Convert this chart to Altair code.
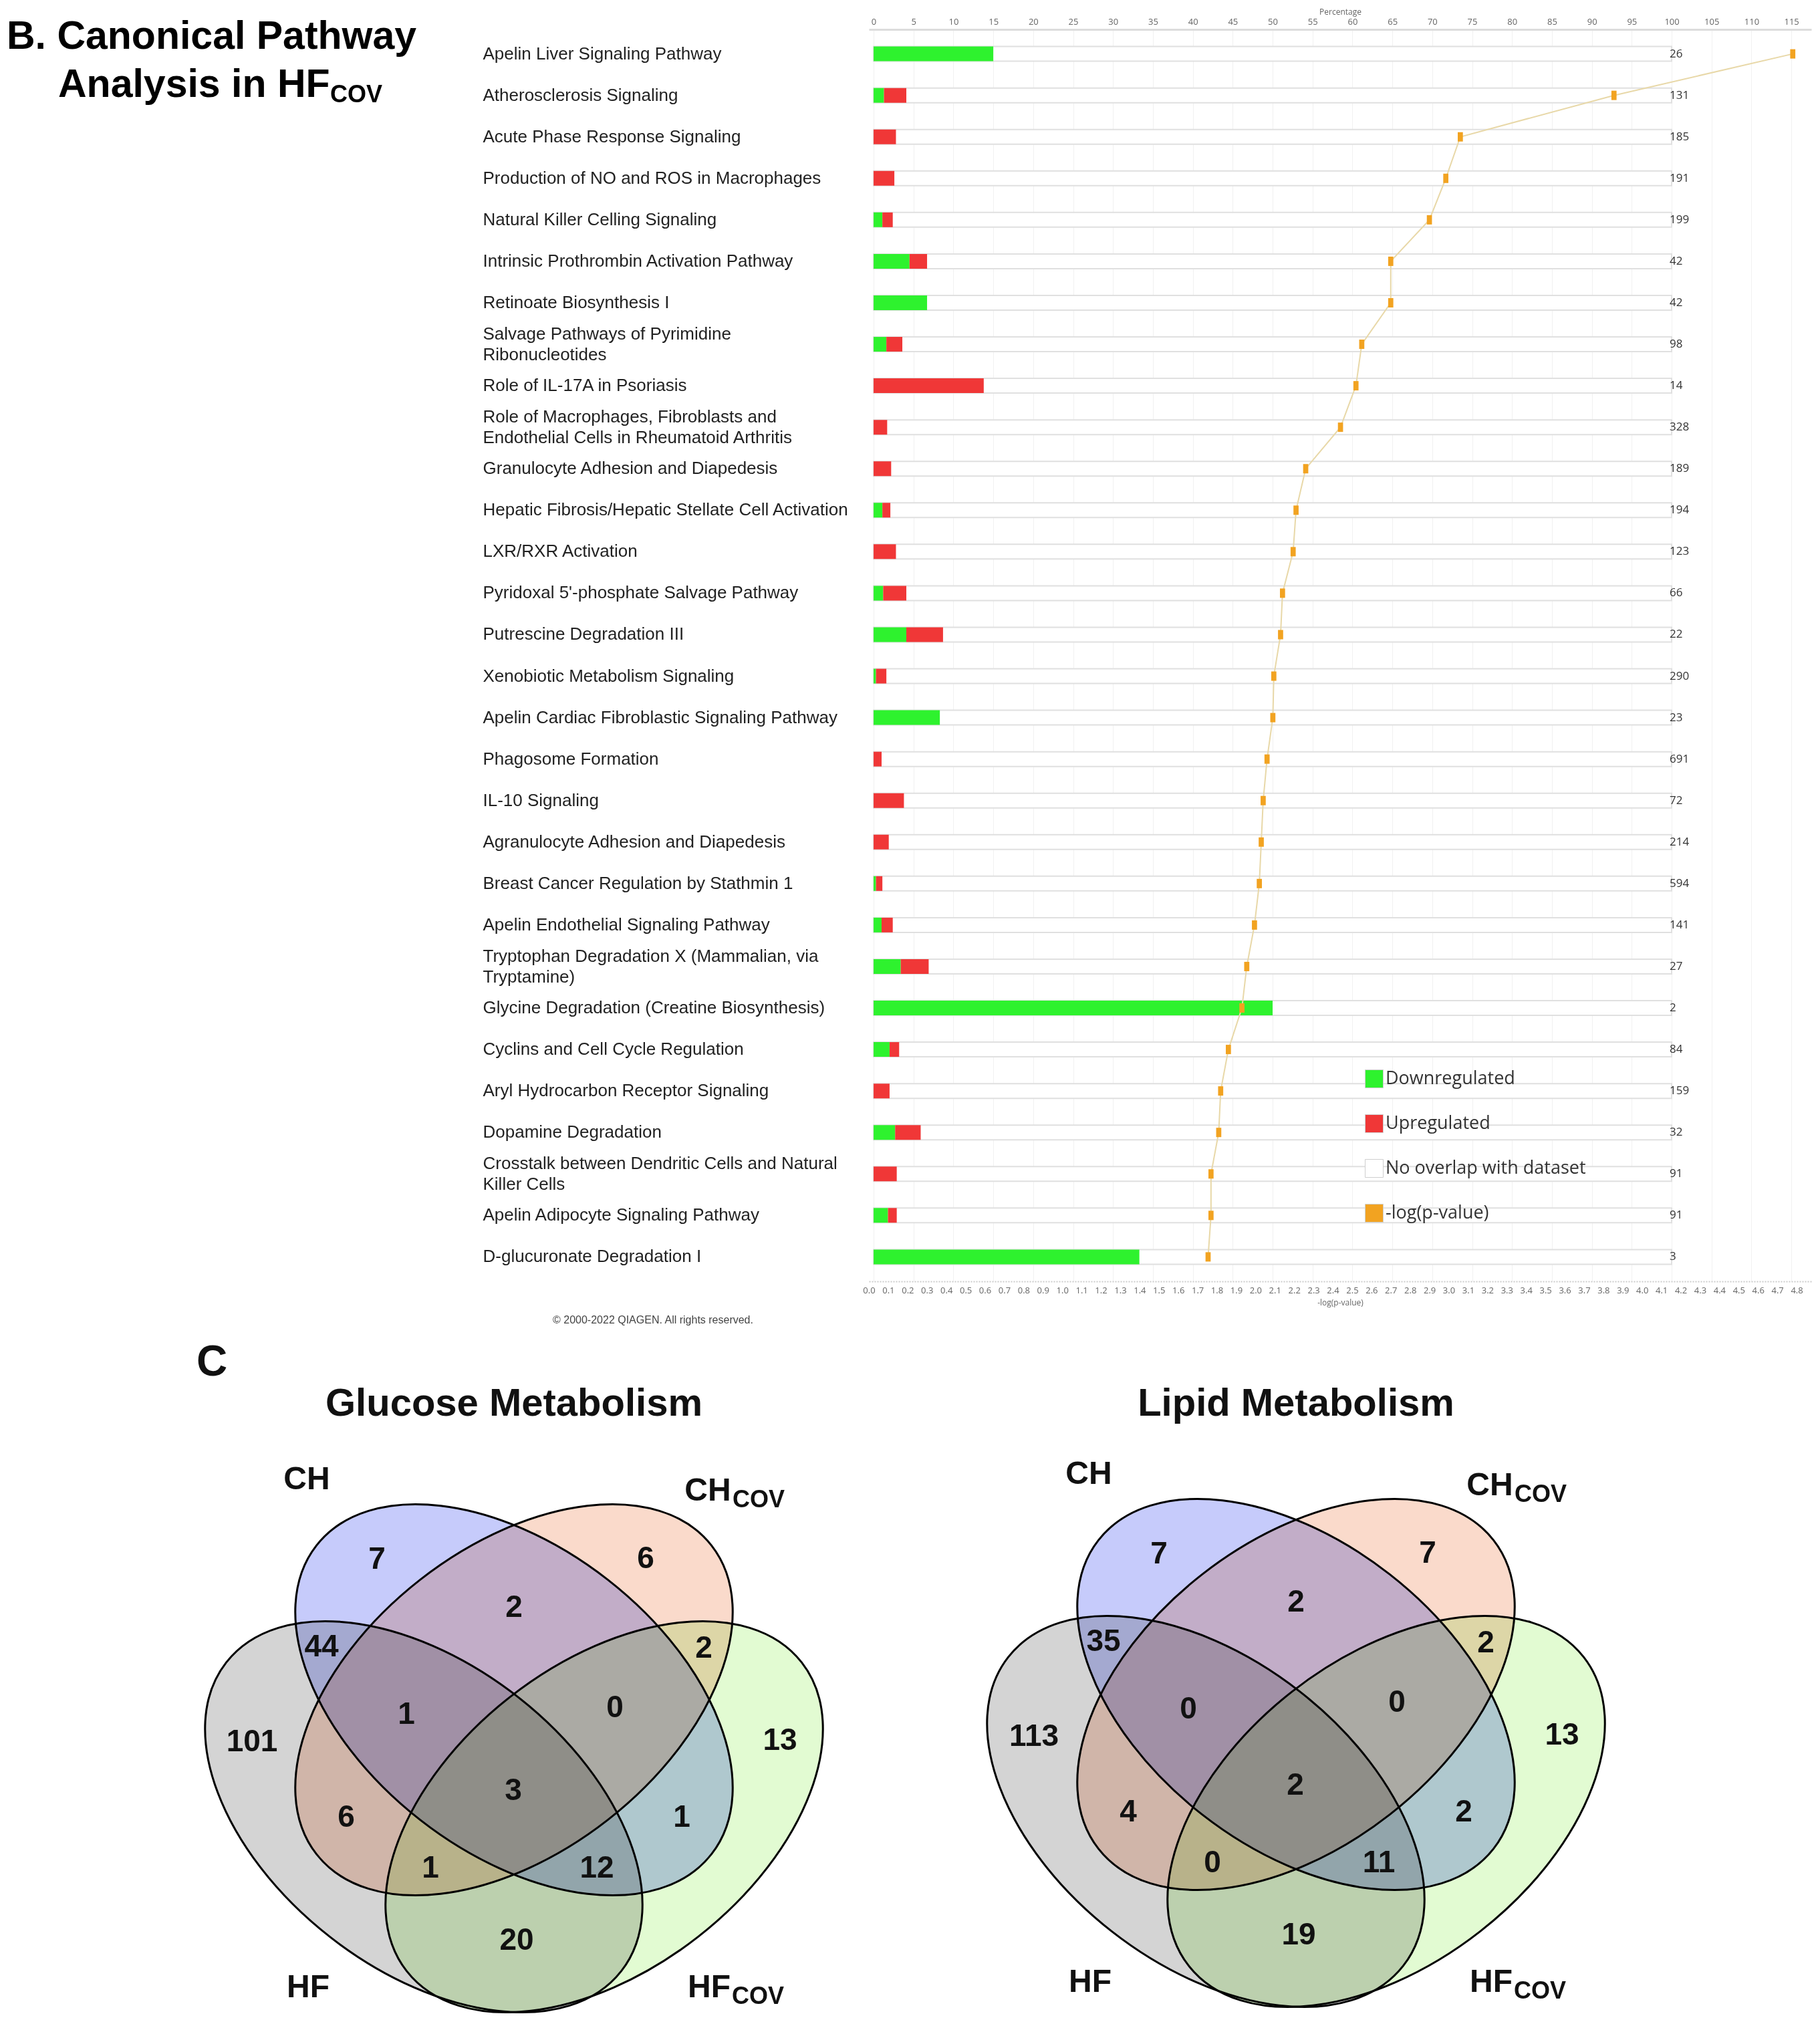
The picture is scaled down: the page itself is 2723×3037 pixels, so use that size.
import altair as alt
import pandas as pd

# ---------------- data: canonical pathway analysis ----------------
pathways = [
    "Apelin Liver Signaling Pathway",
    "Atherosclerosis Signaling",
    "Acute Phase Response Signaling",
    "Production of NO and ROS in Macrophages",
    "Natural Killer Celling Signaling",
    "Intrinsic Prothrombin Activation Pathway",
    "Retinoate Biosynthesis I",
    "Salvage Pathways of Pyrimidine|Ribonucleotides",
    "Role of IL-17A in Psoriasis",
    "Role of Macrophages, Fibroblasts and|Endothelial Cells in Rheumatoid Arthritis",
    "Granulocyte Adhesion and Diapedesis",
    "Hepatic Fibrosis/Hepatic Stellate Cell Activation",
    "LXR/RXR Activation",
    "Pyridoxal 5'-phosphate Salvage Pathway",
    "Putrescine Degradation III",
    "Xenobiotic Metabolism Signaling",
    "Apelin Cardiac Fibroblastic Signaling Pathway",
    "Phagosome Formation",
    "IL-10 Signaling",
    "Agranulocyte Adhesion and Diapedesis",
    "Breast Cancer Regulation by Stathmin 1",
    "Apelin Endothelial Signaling Pathway",
    "Tryptophan Degradation X (Mammalian, via|Tryptamine)",
    "Glycine Degradation (Creatine Biosynthesis)",
    "Cyclins and Cell Cycle Regulation",
    "Aryl Hydrocarbon Receptor Signaling",
    "Dopamine Degradation",
    "Crosstalk between Dendritic Cells and Natural|Killer Cells",
    "Apelin Adipocyte Signaling Pathway",
    "D-glucuronate Degradation I",
]
down_pct = [15.0, 1.3, 0, 0, 1.1, 4.5, 6.7, 1.6, 0, 0, 0, 1.1, 0, 1.2, 4.1,
            0.3, 8.3, 0, 0, 0, 0.3, 1.0, 3.4, 50.0, 2.0, 0, 2.7, 0, 1.8, 33.3]
up_pct = [0, 2.8, 2.8, 2.6, 1.3, 2.2, 0, 2.0, 13.8, 1.7, 2.2, 1.0, 2.8, 2.9, 4.6,
          1.3, 0, 1.0, 3.8, 1.9, 0.8, 1.4, 3.5, 0, 1.2, 2.0, 3.2, 2.9, 1.1, 0]
neg_log_p = [4.78, 3.855, 3.06, 2.985, 2.90, 2.70, 2.70, 2.55, 2.52, 2.44, 2.26, 2.21,
             2.195, 2.14, 2.13, 2.095, 2.09, 2.06, 2.04, 2.03, 2.02, 1.995, 1.955,
             1.93, 1.86, 1.82, 1.81, 1.77, 1.77, 1.755]
pathway_sizes = [26, 131, 185, 191, 199, 42, 42, 98, 14, 328, 189, 194, 123, 66, 22,
                 290, 23, 691, 72, 214, 594, 141, 27, 2, 84, 159, 32, 91, 91, 3]

legend_names = ["Downregulated", "Upregulated", "No overlap with dataset", "-log(p-value)"]
legend_colors = ["#2ef22e", "#f03737", "#ffffff", "#f2a321"]

pct_ticks = list(range(0, 116, 5))
p_ticks = [round(i * 0.1, 1) for i in range(49)]

# ---------------- data: Venn diagrams ----------------
venn_regions = ["CH", "CH_cov", "CH&CH_cov", "CH&HF", "CH_cov&HF_cov", "CH&CH_cov&HF",
                "CH&CH_cov&HF_cov", "HF", "HF_cov", "CH&CH_cov&HF&HF_cov", "CH_cov&HF",
                "CH&HF_cov", "CH_cov&HF&HF_cov", "CH&HF&HF_cov", "HF&HF_cov"]
glucose_counts = [7, 6, 2, 44, 2, 1, 0, 101, 13, 3, 6, 1, 1, 12, 20]
lipid_counts = [7, 7, 2, 35, 2, 0, 0, 113, 13, 2, 4, 2, 0, 11, 19]
venn_titles = ["Glucose Metabolism", "Lipid Metabolism"]

# ---------------- layout (pixels) ----------------
PLOT_W, PLOT_H = 1410, 1873
PLOT_TOP = 42             # page y of the bar plot's top edge
TITLE_W = 714
LABEL_PAD = 578
ROW_GAP = 10
TOP_PAD = 3
ROW2_TOP = 1964           # page y where the Venn canvas starts
CANVAS_W, CANVAS_H = 2707, 1062
MARGIN = 8

# region label offsets from the Venn centre
region_offsets = {
    "CH": (-205, -210), "CH_cov": (197, -211), "CH&CH_cov": (0, -138),
    "CH&HF": (-288, -79), "CH_cov&HF_cov": (284, -77), "CH&CH_cov&HF": (-161, 22),
    "CH&CH_cov&HF_cov": (151, 12), "HF": (-392, 63), "HF_cov": (398, 61),
    "CH&CH_cov&HF&HF_cov": (-1, 136), "CH_cov&HF": (-251, 176), "CH&HF_cov": (251, 176),
    "CH_cov&HF&HF_cov": (-125, 252), "CH&HF&HF_cov": (124, 252), "HF&HF_cov": (4, 360),
}
venn_centres = [(769, 2543), (1939, 2535)]
ELL_A, ELL_B = 375, 228
ellipse_sets = [  # name, dx, dy, angle, fill
    ("HF", -135, 175, 38, "#d4d4d4"),
    ("HF_cov", 135, 175, 322, "#e2fbd2"),
    ("CH_cov", 0, 0, 322, "#fadacb"),
    ("CH", 0, 0, 38, "#c6cbfb"),
]
ELLIPSE_PATH = "M-1,0A1,%.4f,0,1,1,1,0A1,%.4f,0,1,1,-1,0Z" % (ELL_B / ELL_A, ELL_B / ELL_A)

# ================= Panel B : bar chart =================
df = pd.DataFrame({
    "pathway": pathways, "down": down_pct, "up": up_pct, "nlogp": neg_log_p,
    "total": pathway_sizes, "rank": list(range(len(pathways))),
})
df["zero"] = 0.0
df["full"] = 100.0

segs = pd.concat([
    pd.DataFrame({"pathway": pathways, "start": 0.0, "end": down_pct, "kind": "Downregulated"}),
    pd.DataFrame({"pathway": pathways, "start": down_pct,
                  "end": [d + u for d, u in zip(down_pct, up_pct)], "kind": "Upregulated"}),
])
segs = segs[segs["end"] > segs["start"]]

y_enc = alt.Y(
    "pathway:N", sort=pathways, title=None,
    scale=alt.Scale(paddingInner=0, paddingOuter=0.09),
    axis=alt.Axis(
        labelExpr="split(datum.label, '|')", labelAlign="left", labelBaseline="middle",
        labelOffset={"expr": "indexof(datum.value, '|') >= 0 ? -15 : 0"},
        labelPadding=LABEL_PAD, ticks=False, tickSize=0, domain=False, grid=False,
        labelFont="Liberation Sans", labelFontSize=26, labelColor="#222222",
        labelLimit=0, labelLineHeight=31,
    ),
)

pct_scale = alt.Scale(domain=[-0.59, 117.5], nice=False, zero=False)
top_axis = alt.Axis(
    orient="top", values=pct_ticks, title="Percentage", titleFont="Open Sans",
    titleFontSize=12, titleFontWeight="normal", titleColor="#666666", titlePadding=2,
    labelFont="Open Sans", labelFontSize=13, labelColor="#666666", labelPadding=5,
    ticks=False, tickSize=0, domainColor="#dcdcdc", domainWidth=3,
    grid=True, gridColor="#f1f1f1", gridWidth=1, labelFlush=False, labelOverlap=False,
)


def xp(field):
    return alt.X(field, type="quantitative", scale=pct_scale, axis=top_axis)


bg = alt.Chart(df).mark_bar(size=22, fill="white", stroke="#e0e0e0", strokeWidth=2).encode(
    x=xp("zero"), x2="full:Q", y=y_enc)

bars = alt.Chart(segs).mark_bar(size=22).encode(
    x=xp("start"), x2="end:Q", y=y_enc,
    color=alt.Color(
        "kind:N", scale=alt.Scale(domain=legend_names, range=legend_colors),
        legend=alt.Legend(
            title=None, orient="none", legendX=2034, legendY=1556,
            labelFont="Open Sans", labelFontSize=27, labelColor="#333333",
            symbolType="square", symbolSize=729, symbolStrokeColor="#cfcfcf",
            symbolStrokeWidth=1, rowPadding=35, labelLimit=0, labelOffset=3,
        ),
    ),
)

nums = alt.Chart(df).mark_text(align="left", dx=-3, font="Open Sans", fontSize=17,
                               color="#333333").encode(
    x=xp("full"), y=y_enc, text="total:Q")

p_scale = alt.Scale(domain=[0, 4.876], nice=False, zero=False)
bot_axis = alt.Axis(
    orient="bottom", values=p_ticks, format=".1f", title="-log(p-value)",
    titleFont="Open Sans", titleFontSize=12, titleFontWeight="normal", titleColor="#666666",
    titlePadding=6, labelFont="Open Sans", labelFontSize=13, labelColor="#666666",
    labelPadding=7, ticks=False, tickSize=0, domainColor="#cccccc", domainDash=[2, 2],
    domainWidth=2, grid=False, labelFlush=False, labelOverlap=False,
)

pline = alt.Chart(df).mark_line(color="#e8d8a8", strokeWidth=2).encode(
    x=alt.X("nlogp:Q", scale=p_scale, axis=bot_axis), y=y_enc, order="rank:Q")
ppts = alt.Chart(df).mark_point(
    shape="M-0.55,-1L0.55,-1L0.55,1L-0.55,1Z", filled=True, size=196,
    color="#f2a321", opacity=1).encode(
    x=alt.X("nlogp:Q", scale=p_scale, axis=bot_axis), y=y_enc)

panel_b = alt.layer(alt.layer(bg, bars, nums), alt.layer(pline, ppts)).resolve_scale(
    x="independent").properties(width=PLOT_W, height=PLOT_H)

# ================= Panel title (left of B) =================
title_df = pd.DataFrame({
    "text": ["B. Canonical Pathway", "Analysis in HF", "COV"],
    "x": [10 - MARGIN, 87 - MARGIN, 494 - MARGIN],
    "y": [53 - PLOT_TOP, 125 - PLOT_TOP, 140 - PLOT_TOP],
    "fs": [59, 59, 36],
})
t_x = alt.Scale(domain=[0, TITLE_W], nice=False, zero=False)
t_y = alt.Scale(domain=[0, PLOT_H], reverse=True, nice=False, zero=False)
panel_t = alt.Chart(title_df).mark_text(
    align="left", baseline="middle", font="Liberation Sans", fontWeight="bold",
    color="black").encode(
    x=alt.X("x:Q", scale=t_x, axis=None), y=alt.Y("y:Q", scale=t_y, axis=None),
    text="text:N", size=alt.Size("fs:Q", scale=None),
).properties(width=TITLE_W, height=PLOT_H)

row1 = alt.hconcat(panel_t, panel_b, spacing=0)

# ================= Row 2 : Venn canvas =================
cx_s = alt.Scale(domain=[0, CANVAS_W], nice=False, zero=False)
cy_s = alt.Scale(domain=[0, CANVAS_H], reverse=True, nice=False, zero=False)


def cxp(page_x):
    return page_x - MARGIN


def cyp(page_y):
    return page_y - ROW2_TOP


ell_rows, num_rows, lab_c, lab_l = [], [], [], []
for (vx, vy), counts, title in zip(venn_centres, [glucose_counts, lipid_counts], venn_titles):
    for name, dx, dy, ang, fill in ellipse_sets:
        ell_rows.append({"x": cxp(vx + dx), "y": cyp(vy + dy), "angle": ang, "fill": fill})
    for reg, cnt in zip(venn_regions, counts):
        ox, oy = region_offsets[reg]
        num_rows.append({"x": cxp(vx + ox), "y": cyp(vy + oy), "text": str(cnt)})
    lab_c += [
        {"x": cxp(vx - 310), "y": cyp(vy - 329), "text": "CH", "fs": 48},
        {"x": cxp(vx + 290), "y": cyp(vy - 312), "text": "CH", "fs": 48},
        {"x": cxp(vx - 308), "y": cyp(vy + 431), "text": "HF", "fs": 48},
        {"x": cxp(vx + 292), "y": cyp(vy + 431), "text": "HF", "fs": 48},
        {"x": cxp(vx), "y": cyp(2101), "text": title, "fs": 58},
    ]
    lab_l += [
        {"x": cxp(vx + 327), "y": cyp(vy - 299), "text": "COV", "fs": 36},
        {"x": cxp(vx + 326), "y": cyp(vy + 444), "text": "COV", "fs": 36},
    ]
lab_l.append({"x": cxp(294), "y": cyp(2039), "text": "C", "fs": 64})

ell_df = pd.DataFrame(ell_rows)
num_df = pd.DataFrame(num_rows)
labc_df = pd.DataFrame(lab_c)
labl_df = pd.DataFrame(lab_l)
copy_df = pd.DataFrame({"x": [cxp(977)], "y": [cyp(1975)],
                        "text": ["\u00a9 2000-2022 QIAGEN. All rights reserved."]})


def XC(f):
    return alt.X(f, type="quantitative", scale=cx_s, axis=None)


def YC(f):
    return alt.Y(f, type="quantitative", scale=cy_s, axis=None)


ellipses = alt.Chart(ell_df).mark_point(
    shape=ELLIPSE_PATH, filled=True, size=(2 * ELL_A) ** 2, stroke="black",
    strokeWidth=3, opacity=1, fillOpacity=1, strokeOpacity=1, blend="multiply").encode(
    x=XC("x"), y=YC("y"), fill=alt.Fill("fill:N", scale=None),
    angle=alt.Angle("angle:Q", scale=None))

numbers = alt.Chart(num_df).mark_text(
    align="center", baseline="middle", font="Liberation Sans", fontWeight="bold",
    fontSize=46, color="#111111").encode(x=XC("x"), y=YC("y"), text="text:N")

labels_c = alt.Chart(labc_df).mark_text(
    align="center", baseline="middle", font="Liberation Sans", fontWeight="bold",
    color="#111111").encode(x=XC("x"), y=YC("y"), text="text:N",
                            size=alt.Size("fs:Q", scale=None))
labels_l = alt.Chart(labl_df).mark_text(
    align="left", baseline="middle", font="Liberation Sans", fontWeight="bold",
    color="#111111").encode(x=XC("x"), y=YC("y"), text="text:N",
                            size=alt.Size("fs:Q", scale=None))
copyright_t = alt.Chart(copy_df).mark_text(
    align="center", baseline="middle", font="Liberation Sans", fontSize=16,
    color="#444444").encode(x=XC("x"), y=YC("y"), text="text:N")

row2 = alt.layer(ellipses, numbers, labels_c, labels_l, copyright_t).properties(
    width=CANVAS_W, height=CANVAS_H)

chart = (
    alt.vconcat(row1, row2, spacing=ROW_GAP)
    .properties(padding={"left": 0, "top": TOP_PAD, "right": 0, "bottom": 0})
    .configure(background="white")
    .configure_view(stroke=None)
)

chart.save("out.html", embed_options={"renderer": "svg", "actions": False})
